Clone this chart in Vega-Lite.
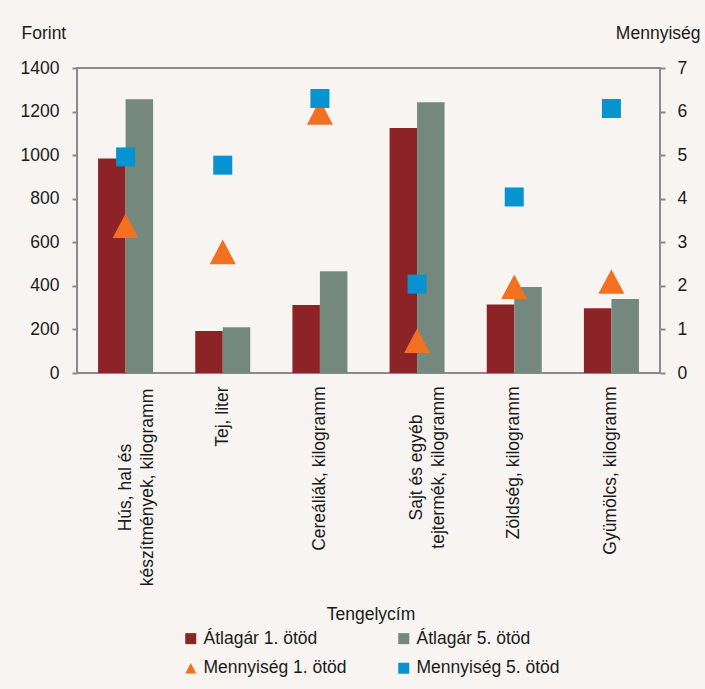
{
  "$schema": "https://vega.github.io/schema/vega-lite/v6.json",
  "width": 583,
  "height": 305,
  "autosize": {"type": "none"},
  "padding": {"left": 77, "top": 68, "right": 45, "bottom": 316},
  "background": "#F7F4F1",
  "config": {
    "font": "Liberation Sans",
    "view": {"stroke": "#8A8A8E", "strokeWidth": 2},
    "axis": {
      "labelFont": "Liberation Sans",
      "labelFontSize": 17.5,
      "labelColor": "#1a1a1a",
      "titleFont": "Liberation Sans",
      "titleFontSize": 17.5,
      "titleFontWeight": "normal",
      "titleColor": "#1a1a1a",
      "grid": false,
      "domain": false,
      "tickColor": "#8A8A8E",
      "tickWidth": 2,
      "tickSize": 5
    },
    "legend": {
      "labelFont": "Liberation Sans",
      "titleFont": "Liberation Sans"
    }
  },
  "data": {
    "values": [
      {"cat": "Hús, hal és készítmények, kilogramm", "series": "Átlagár 1. ötöd", "group": "price", "value": 985},
      {"cat": "Hús, hal és készítmények, kilogramm", "series": "Átlagár 5. ötöd", "group": "price", "value": 1256},
      {"cat": "Tej, liter", "series": "Átlagár 1. ötöd", "group": "price", "value": 193},
      {"cat": "Tej, liter", "series": "Átlagár 5. ötöd", "group": "price", "value": 210},
      {"cat": "Cereáliák, kilogramm", "series": "Átlagár 1. ötöd", "group": "price", "value": 312},
      {"cat": "Cereáliák, kilogramm", "series": "Átlagár 5. ötöd", "group": "price", "value": 467},
      {"cat": "Sajt és egyéb tejtermék, kilogramm", "series": "Átlagár 1. ötöd", "group": "price", "value": 1125},
      {"cat": "Sajt és egyéb tejtermék, kilogramm", "series": "Átlagár 5. ötöd", "group": "price", "value": 1243},
      {"cat": "Zöldség, kilogramm", "series": "Átlagár 1. ötöd", "group": "price", "value": 315},
      {"cat": "Zöldség, kilogramm", "series": "Átlagár 5. ötöd", "group": "price", "value": 395},
      {"cat": "Gyümölcs, kilogramm", "series": "Átlagár 1. ötöd", "group": "price", "value": 297},
      {"cat": "Gyümölcs, kilogramm", "series": "Átlagár 5. ötöd", "group": "price", "value": 340},
      {"cat": "Hús, hal és készítmények, kilogramm", "series": "Mennyiség 1. ötöd", "group": "qty1", "value": 3.38},
      {"cat": "Tej, liter", "series": "Mennyiség 1. ötöd", "group": "qty1", "value": 2.78},
      {"cat": "Cereáliák, kilogramm", "series": "Mennyiség 1. ötöd", "group": "qty1", "value": 5.98},
      {"cat": "Sajt és egyéb tejtermék, kilogramm", "series": "Mennyiség 1. ötöd", "group": "qty1", "value": 0.74},
      {"cat": "Zöldség, kilogramm", "series": "Mennyiség 1. ötöd", "group": "qty1", "value": 1.98},
      {"cat": "Gyümölcs, kilogramm", "series": "Mennyiség 1. ötöd", "group": "qty1", "value": 2.1},
      {"cat": "Hús, hal és készítmények, kilogramm", "series": "Mennyiség 5. ötöd", "group": "qty5", "value": 4.96},
      {"cat": "Tej, liter", "series": "Mennyiség 5. ötöd", "group": "qty5", "value": 4.77},
      {"cat": "Cereáliák, kilogramm", "series": "Mennyiség 5. ötöd", "group": "qty5", "value": 6.3},
      {"cat": "Sajt és egyéb tejtermék, kilogramm", "series": "Mennyiség 5. ötöd", "group": "qty5", "value": 2.04},
      {"cat": "Zöldség, kilogramm", "series": "Mennyiség 5. ötöd", "group": "qty5", "value": 4.04},
      {"cat": "Gyümölcs, kilogramm", "series": "Mennyiség 5. ötöd", "group": "qty5", "value": 6.07}
    ]
  },
  "encoding": {
    "x": {
      "field": "cat",
      "type": "nominal",
      "sort": null,
      "scale": {"paddingInner": 0.434, "paddingOuter": 0.217},
      "axis": {
        "title": null,
        "ticks": false,
        "labelAngle": 270,
        "labelAlign": {"condition": {"test": "indexof(datum.value, 'Hús') == 0 || indexof(datum.value, 'Sajt') == 0", "value": "center"}, "value": "right"},
        "labelBaseline": "middle",
        "labelPadding": {"condition": [{"test": "indexof(datum.value, 'Hús') == 0", "value": 114}, {"test": "indexof(datum.value, 'Sajt') == 0", "value": 94}], "value": 13},
        "labelLimit": 400,
        "labelLineHeight": 22,
        "labelExpr": "datum.value == 'Hús, hal és készítmények, kilogramm' ? ['Hús, hal és', 'készítmények, kilogramm'] : datum.value == 'Sajt és egyéb tejtermék, kilogramm' ? ['Sajt és egyéb', 'tejtermék, kilogramm'] : datum.label"
      }
    },
    "color": {
      "field": "series",
      "type": "nominal",
      "scale": {
        "domain": ["Átlagár 1. ötöd", "Átlagár 5. ötöd", "Mennyiség 1. ötöd", "Mennyiség 5. ötöd"],
        "range": ["#8C2327", "#75887D", "#F37021", "#0693CF"]
      },
      "legend": {
        "title": "Tengelycím",
        "orient": "none",
        "legendX": 105,
        "legendY": 538,
        "direction": "horizontal",
        "columns": 2,
        "columnPadding": 48,
        "rowPadding": 11,
        "padding": 0,
        "symbolSize": 121,
        "symbolStrokeWidth": 0,
        "labelFontSize": 17.5,
        "labelColor": "#1a1a1a",
        "labelOffset": 4,
        "labelLimit": 300,
        "titleFontSize": 17.5,
        "titleFontWeight": "normal",
        "titleColor": "#1a1a1a",
        "titleAnchor": "middle",
        "titleAlign": "center",
        "titlePadding": 6
      }
    },
    "shape": {
      "field": "series",
      "type": "nominal",
      "scale": {
        "domain": ["Átlagár 1. ötöd", "Átlagár 5. ötöd", "Mennyiség 1. ötöd", "Mennyiség 5. ötöd"],
        "range": ["square", "square", "M0,-0.95L1,0.95L-1,0.95Z", "square"]
      }
    }
  },
  "layer": [
    {
      "transform": [{"filter": {"field": "group", "equal": "price"}}],
      "mark": {"type": "bar"},
      "encoding": {
        "shape": null,
        "xOffset": {"field": "series", "type": "nominal", "sort": ["Átlagár 1. ötöd", "Átlagár 5. ötöd"]},
        "y": {
          "field": "value",
          "type": "quantitative",
          "scale": {"domain": [0, 1400], "nice": false},
          "axis": {
            "values": [0, 200, 400, 600, 800, 1000, 1200, 1400],
            "format": "d",
            "title": "Forint",
            "titleAngle": 0,
            "titleAlign": "left",
            "titleBaseline": "middle",
            "titleAnchor": "end",
            "titleX": -56,
            "titleY": -35,
            "labelPadding": 13
          }
        }
      }
    },
    {
      "layer": [
        {
          "transform": [{"filter": {"field": "group", "equal": "qty1"}}],
          "mark": {"type": "point", "filled": true, "opacity": 1, "size": 676}
        },
        {
          "transform": [{"filter": {"field": "group", "equal": "qty5"}}],
          "mark": {"type": "point", "filled": true, "opacity": 1, "size": 361}
        }
      ],
      "encoding": {
        "y": {
          "field": "value",
          "type": "quantitative",
          "scale": {"domain": [0, 7], "nice": false},
          "axis": {
            "orient": "right",
            "values": [0, 1, 2, 3, 4, 5, 6, 7],
            "title": "Mennyiség",
            "titleAngle": 0,
            "titleAlign": "right",
            "titleBaseline": "middle",
            "titleAnchor": "end",
            "titleX": 40,
            "titleY": -35,
            "labelPadding": 12
          }
        }
      }
    }
  ],
  "resolve": {"scale": {"y": "independent"}}
}
